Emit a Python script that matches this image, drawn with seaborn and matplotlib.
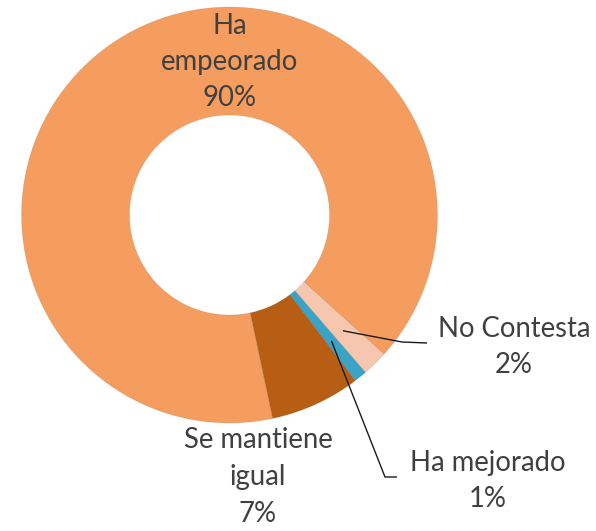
import numpy as np
import matplotlib.pyplot as plt
import seaborn as sns

# ============================================
# Data (clockwise order, starting with the big slice)
# ============================================
CATEGORIES = ["Ha empeorado", "No Contesta", "Ha mejorado", "Se mantiene igual"]
LABEL_TEXT = ["Ha\nempeorado", "No Contesta", "Ha mejorado", "Se mantiene\nigual"]
PERCENTS = [90, 2, 1, 7]
COLORS = ["#F59D5F", "#F6C7AE", "#3AA3C6", "#B85D14"]

# ============================================
# Layout (pixel coords, y from top)
# ============================================
W, H = 596, 531
CENTER = (229.5, 215)
RADIUS = 208
HOLE = 100
LABEL_POS = [(230, 62), (514, 347), (488, 481), (258, 477)]
# elbow + end of leader lines, only for the outside labels
LEADERS = {1: [(402, 342), (427, 343)], 2: [(385, 477), (397, 477)]}
TEXT_COLOR = "#404040"


def flip(p):
    return (p[0], H - p[1])


def main():
    sns.set_theme(style="white")
    plt.rcParams['font.family'] = ['Lato', 'DejaVu Sans']

    fig = plt.figure(figsize=(W / 100, H / 100), dpi=100)
    ax = fig.add_axes([0, 0, 1, 1])

    wedges, _ = ax.pie(
        PERCENTS, colors=COLORS, startangle=-78, counterclock=False,
        center=flip(CENTER), radius=RADIUS,
        wedgeprops=dict(width=RADIUS - HOLE, edgecolor=(0, 0, 0, 0.08), linewidth=0.6),
        frame=True,
    )
    ax.set_xlim(0, W)
    ax.set_ylim(0, H)
    ax.set_aspect('auto')
    ax.axis('off')

    for i, (w, txt, pct) in enumerate(zip(wedges, LABEL_TEXT, PERCENTS)):
        x, y = flip(LABEL_POS[i])
        ax.text(x, y, f"{txt}\n{pct}%", ha='center', va='center',
                fontsize=19.8, color=TEXT_COLOR, linespacing=1.5)
        if i in LEADERS:
            ang = np.deg2rad((w.theta1 + w.theta2) / 2)
            r = (RADIUS + HOLE) / 2 + 8
            cx, cy = flip(CENTER)
            pts = [(cx + r * np.cos(ang), cy + r * np.sin(ang))]
            pts += [flip(p) for p in LEADERS[i]]
            xs, ys = zip(*pts)
            ax.plot(xs, ys, color="#1a1a1a", lw=1.0, solid_capstyle='butt')

    plt.savefig("out.png", dpi=100)
    plt.close()


if __name__ == "__main__":
    main()
